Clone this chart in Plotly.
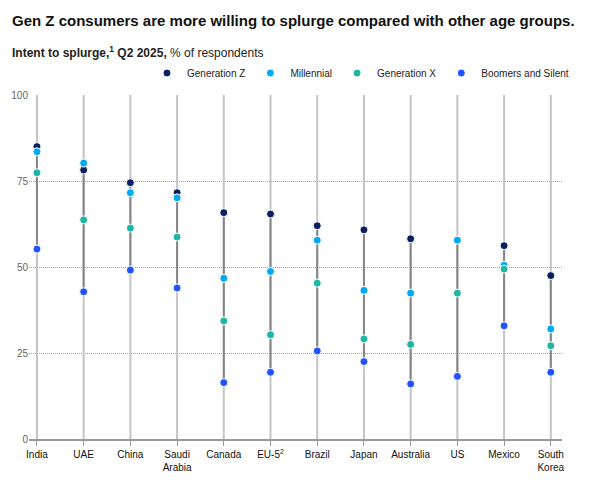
import plotly.graph_objects as go

categories = ["India", "UAE", "China", "Saudi<br>Arabia", "Canada", "EU-5<sup>2</sup>",
              "Brazil", "Japan", "Australia", "US", "Mexico", "South<br>Korea"]
gen_z = [85.0, 78.2, 74.5, 71.6, 65.8, 65.4, 62.0, 60.8, 58.2, 57.8, 56.2, 47.5]
millennial = [83.5, 80.2, 71.6, 70.1, 46.7, 48.7, 57.8, 43.2, 42.4, 57.8, 50.5, 32.0]
gen_x = [77.4, 63.7, 61.3, 58.7, 34.3, 30.3, 45.3, 29.1, 27.5, 42.4, 49.4, 27.1]
boomers = [55.2, 42.8, 49.1, 43.9, 16.4, 19.4, 25.6, 22.5, 16.0, 18.2, 32.9, 19.4]
y_ticks = [0, 25, 50, 75, 100]

series = [
    ("Generation Z", gen_z, "#0B1F5E"),
    ("Millennial", millennial, "#00A9F4"),
    ("Generation X", gen_x, "#1FB5A3"),
    ("Boomers and Silent", boomers, "#2251FF"),
]

FONT = "Liberation Sans, Arial, sans-serif"
PLOT_H = 344
PLOT_W = 533
ML, MT = 21, 87  # page body has an 8px margin

fig = go.Figure()

# light full-height stems
lx, ly = [], []
for c in categories:
    lx += [c, c, None]
    ly += [y_ticks[0], y_ticks[-1], None]
fig.add_trace(go.Scatter(x=lx, y=ly, mode="lines", line=dict(color="#C4C4C4", width=2),
                         hoverinfo="skip", showlegend=False))

# darker range segments
dx, dy = [], []
for i, c in enumerate(categories):
    vals = [gen_z[i], millennial[i], gen_x[i], boomers[i]]
    dx += [c, c, None]
    dy += [min(vals), max(vals), None]
fig.add_trace(go.Scatter(x=dx, y=dy, mode="lines", line=dict(color="#858585", width=2),
                         hoverinfo="skip", showlegend=False))

for name, vals, col in series:
    fig.add_trace(go.Scatter(x=categories, y=vals, mode="markers", name=name,
                             marker=dict(color=col, size=8, line=dict(color="white", width=1))))

fig.update_layout(
    width=607, height=472,
    margin=dict(l=ML, r=607 - ML - PLOT_W, t=MT, b=472 - MT - PLOT_H, autoexpand=False),
    paper_bgcolor="white", plot_bgcolor="white",
    font=dict(family=FONT, color="#222", size=10),
    showlegend=True,
    legend=dict(orientation="h", x=(566 - ML) / PLOT_W, xanchor="right",
                y=1 + 22 / PLOT_H, yanchor="middle",
                font=dict(size=10, color="#222"), itemwidth=30, traceorder="normal",
                bgcolor="rgba(0,0,0,0)"),
    annotations=[
        dict(text="<b>Gen Z consumers are more willing to splurge compared with other age groups.</b>",
             xref="paper", yref="paper", x=(2 - ML) / PLOT_W, y=1 + 75 / PLOT_H,
             xanchor="left", yanchor="middle",
             showarrow=False, font=dict(size=15, color="#111", family=FONT)),
        dict(text="<b>Intent to splurge,<sup>1</sup> Q2 2025,</b> % of respondents",
             xref="paper", yref="paper", x=(2 - ML) / PLOT_W, y=1 + 43 / PLOT_H,
             xanchor="left", yanchor="middle",
             showarrow=False, font=dict(size=12, color="#222", family=FONT)),
    ],
)

fig.update_xaxes(type="category", range=[-0.17, 11.24], showgrid=False, showline=True,
                 linecolor="#999", linewidth=1.5, ticks="outside", ticklen=5, tickcolor="#999",
                 tickfont=dict(size=10, color="#111"), zeroline=False, fixedrange=True,
                 automargin=False)
fig.update_yaxes(range=[0, 100], tickvals=y_ticks, showgrid=True, gridcolor="#A0A0A0",
                 griddash="1px,1px", gridwidth=1, showline=False, zeroline=False,
                 tickfont=dict(size=10, color="#666"), ticks="", fixedrange=True,
                 automargin=False)

fig.write_html("out.html")
